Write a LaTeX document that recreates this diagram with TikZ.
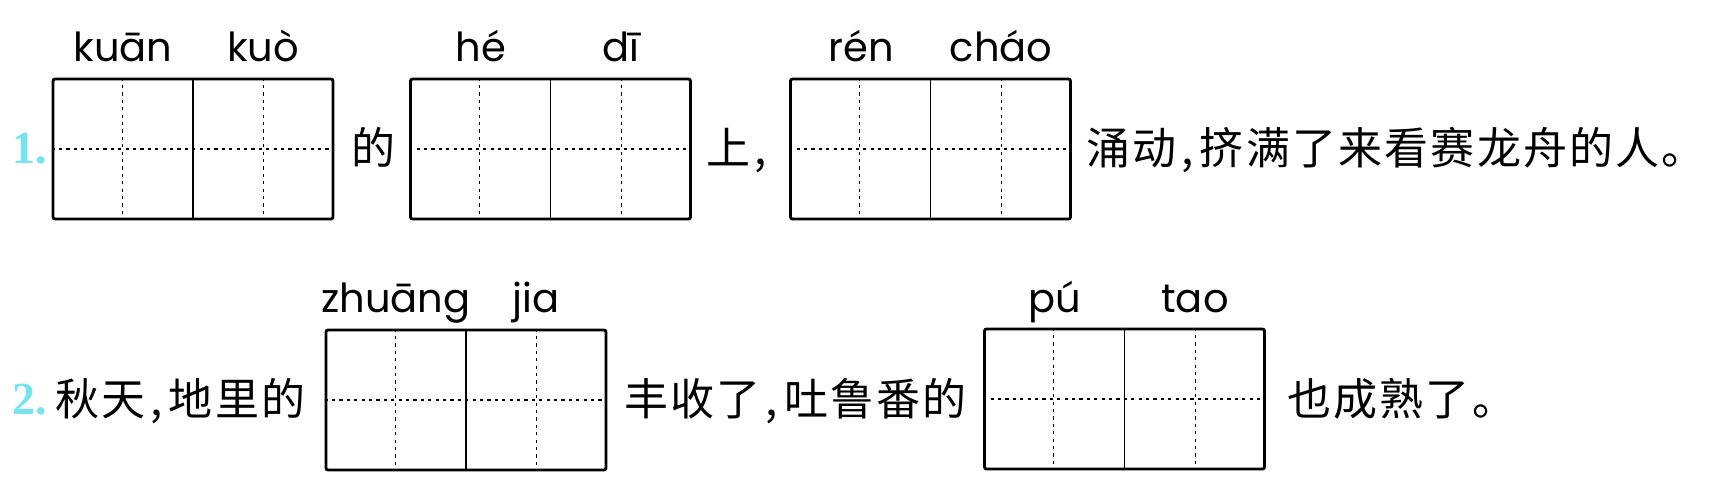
\documentclass[tikz,border=0pt]{standalone}
\usepackage{fontspec}
\usetikzlibrary{calc}
\usetikzlibrary{positioning}
\newfontfamily\cjk[LetterSpace=5]{Noto Sans CJK SC}
\newfontfamily\pyfont{Poppins}
\newfontfamily\numfont{Liberation Serif}
\definecolor{numcyan}{RGB}{118,228,238}
\newcommand{\cm}{\kern0.1em,\kern0.15em}
% one writing box: two squares, each split by dotted guides
\newcommand{\tzg}[3]{%
  \node[gridbox] (#1) at (#2,#3) {};
  \draw[guide] (#1.west) -- (#1.east);
  \draw[midline] (#1.north) -- (#1.south);
  \draw[guide] ($(#1.north west)!0.25!(#1.north east)$) -- ($(#1.south west)!0.25!(#1.south east)$);
  \draw[guide] ($(#1.north west)!0.75!(#1.north east)$) -- ($(#1.south west)!0.75!(#1.south east)$);
}
\tikzset{
  gridbox/.style={draw, line width=1.4pt, rounded corners=1pt, minimum width=140pt, minimum height=70pt, inner sep=0pt},
  midline/.style={line width=0.6pt},
  guide/.style={line width=0.6pt, dash pattern=on 1.6pt off 2.1pt},
  py/.style={font=\pyfont\fontsize{20}{24}\selectfont, anchor=base, inner sep=0pt},
  hz/.style={font=\cjk\fontsize{22}{26}\selectfont, anchor=base west, inner sep=0pt},
  qnum/.style={font=\numfont\bfseries\fontsize{23}{26}\selectfont, text=numcyan, anchor=base west, inner sep=0pt}
}
\begin{document}
\begin{tikzpicture}[x=0.5pt,y=-0.5pt]
  \fill[white] (0,0) rectangle (1712,478);
  \useasboundingbox (0,0) rectangle (1712,478);

  % question 1
  \node[qnum] (n1) at (12,163) {1.};
  \tzg{kuankuo}{193}{149}
  \node[hz] (de1) at (351,164) {的};
  \tzg{hedi}{550.5}{149}
  \node[hz] (shang) at (706,164) {上\cm};
  \tzg{renchao}{930.5}{149}
  \node[hz] (rest1) at (1086,164) {涌动\cm 挤满了来看赛龙舟的人。};
  \node[py] (p1) at (123,61) {kuān};
  \node[py] (p2) at (263,61) {kuò};
  \node[py] (p3) at (481,61) {hé};
  \node[py] (p4) at (621,61) {dī};
  \node[py] (p5) at (861,61) {rén};
  \node[py] (p6) at (1001,61) {cháo};

  % question 2
  \node[qnum] (n2) at (12,414) {2.};
  \node[hz] (qiutian) at (55,415) {秋天\cm 地里的};
  \tzg{zhuangjia}{466}{400}
  \node[hz] (fengshou) at (624,415) {丰收了\cm 吐鲁番的};
  \tzg{putao}{1124.5}{399}
  \node[hz] (rest2) at (1287,415) {也成熟了。};
  \node[py] (p7) at (396,312) {zhuāng};
  \node[py] (p8) at (536,312) {jia};
  \node[py] (p9) at (1055,312) {pú};
  \node[py] (p10) at (1195,312) {tao};
\end{tikzpicture}
\end{document}
